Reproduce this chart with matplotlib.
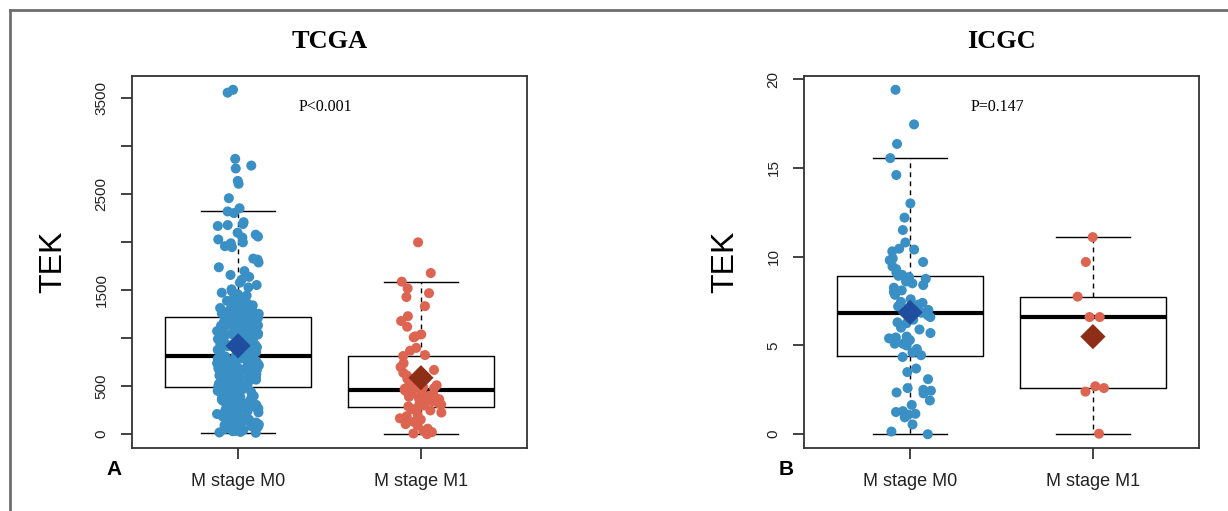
import numpy as np
import matplotlib.pyplot as plt
from matplotlib.lines import Line2D

# TEK expression by M stage
groups = ["M stage M0", "M stage M1"]

tcga_m0 = [15, 18, 24, 31, 36, 44, 50, 61, 66, 77, 83, 95, 101, 106, 118, 122, 134, 139, 150, 153,
           165, 168, 180, 184, 195, 198, 211, 213, 224, 228, 238, 241, 252, 255, 266, 268, 279, 281,
           293, 296, 305, 308, 319, 321, 333, 335, 346, 348, 360, 362, 372, 375, 386, 388, 398, 402,
           413, 415, 426, 428, 438, 441, 452, 454, 462, 466, 471, 474, 478, 480,
           490, 493, 499, 503, 506, 512, 516, 519, 525, 530, 532, 539, 541, 548, 552, 555, 562, 566,
           569, 576, 578, 585, 588, 594, 597, 604, 607, 613, 618, 621, 628, 631, 638, 640, 647, 650,
           657, 660, 667, 670, 677, 680, 687, 690, 697, 700, 707, 710, 717, 720, 727, 730, 737, 740,
           747, 750, 757, 760, 767, 770, 777, 780, 787, 790, 795, 801, 803, 809, 811, 815,
           822, 827, 834, 838, 846, 849, 857, 861, 869, 872, 880, 884, 892, 896, 903, 907, 915, 919,
           927, 931, 939, 943, 951, 955, 963, 967, 975, 979, 987, 991, 999, 1003, 1011, 1015, 1023,
           1027, 1035, 1039, 1047, 1051, 1059, 1063, 1071, 1075, 1083, 1087, 1095, 1099, 1107, 1111,
           1119, 1123, 1131, 1135, 1143, 1147, 1155, 1159, 1167, 1171, 1179, 1183, 1191, 1195, 1199,
           1205, 1207, 1213, 1215, 1220,
           1228, 1232, 1238, 1243, 1250, 1255, 1260, 1266, 1272, 1278, 1284, 1290, 1296, 1302, 1308,
           1315, 1322, 1329, 1336, 1343, 1350, 1358, 1366, 1374, 1382, 1390, 1400, 1410, 1420, 1432,
           1445, 1460, 1475, 1490, 1510, 1530, 1555, 1580, 1610, 1640, 1660, 1700, 1740, 1790,
           1820, 1830, 1950, 1960, 1990, 2000, 2030, 2050, 2060, 2080, 2100, 2170, 2180, 2190, 2210,
           2305, 2322, 2355, 2460, 2610, 2640, 2770, 2800, 2870, 3560, 3590]

tcga_m1 = [0, 8, 22, 35, 58, 92, 105, 128, 152, 166, 188, 207, 226, 248, 262, 276,
           290, 300, 310, 320, 330, 345, 355, 365, 375, 390, 400, 415, 425, 440, 450, 460,
           470, 475, 480, 490, 500, 510, 520, 540, 560, 580, 610, 640, 670, 700, 740, 815,
           825, 870, 900, 1010, 1020, 1040, 1120, 1180, 1230, 1335, 1430, 1470, 1520, 1590,
           1680, 2000]

icgc_m0 = [0.0, 0.15, 0.55, 0.95, 1.1, 1.15, 1.25, 1.3, 1.65, 1.9, 2.3, 2.35, 2.45, 2.5, 2.6,
           3.1, 3.5, 3.7, 4.35,
           4.45, 4.6, 4.8, 5.0, 5.1, 5.1, 5.3, 5.4, 5.45, 5.5, 5.7, 5.9, 6.0, 6.25, 6.3, 6.45,
           6.6, 6.7, 6.78,
           6.84, 6.9, 7.0, 7.05, 7.2, 7.3, 7.4, 7.45, 7.6, 7.85, 8.0, 8.1, 8.25, 8.4, 8.5, 8.6,
           8.75, 8.85, 8.92,
           8.98, 9.1, 9.3, 9.45, 9.7, 9.8, 9.9, 10.3, 10.4, 10.45, 10.8, 11.5, 12.2, 13.0, 14.6,
           15.55, 16.35, 17.45, 19.4]

icgc_m1 = [0.03, 2.4, 2.6, 2.7, 6.6, 6.6, 7.75, 9.7, 11.1]

panels = [
    ("TCGA", "P<0.001", "A", [tcga_m0, tcga_m1], [0, 500, 1000, 1500, 2000, 2500, 3000, 3500],
     ["0", "500", "", "1500", "", "2500", "", "3500"]),
    ("ICGC", "P=0.147", "B", [icgc_m0, icgc_m1], [0, 5, 10, 15, 20],
     ["0", "5", "10", "15", "20"]),
]

pt_colors = ["#3a8fc4", "#dc6450"]
mean_colors = ["#1f4e9e", "#8e2e16"]

W, H = 1228, 511
fig = plt.figure(figsize=(W / 100, H / 100), dpi=100)

# outer frame (only top and left edges visible)
fig.add_artist(Line2D([10 / W, 1.0], [1 - 10 / H, 1 - 10 / H], color="#6e6e6e", lw=2))
fig.add_artist(Line2D([10 / W, 10 / W], [0, 1 - 10 / H], color="#6e6e6e", lw=2))

lefts = [132, 804]
for (title, ptxt, letter, data, yt, ytl), left in zip(panels, lefts):
    ax = fig.add_axes([left / W, 1 - 448 / H, 395 / W, 372 / H])
    ax.boxplot(data, positions=[1, 2], widths=0.8, whis=1.5, showfliers=False,
               capwidths=0.4,
               boxprops=dict(color="black", lw=1),
               medianprops=dict(color="black", lw=3),
               whiskerprops=dict(color="black", lw=1, linestyle=(0, (3.5, 3))),
               capprops=dict(color="black", lw=1))
    for i, vals in enumerate(data):
        vals = np.asarray(vals, dtype=float)
        # stripchart-style horizontal jitter (position only)
        k = np.arange(len(vals)) + 1 + 17 * i
        jit = ((np.sin(k * 12.9898) * 43758.5453) % 1.0 - 0.5) * 0.23
        ax.scatter(i + 1 + jit, vals, s=52, color=pt_colors[i], edgecolors="none", zorder=3)
        ax.scatter([i + 1], [vals.mean()], marker="D", s=165, color=mean_colors[i],
                   edgecolors="none", zorder=4)

    allv = np.concatenate([np.asarray(d, dtype=float) for d in data])
    lo, hi = allv.min(), allv.max()
    ax.set_ylim(lo - 0.04 * (hi - lo), hi + 0.04 * (hi - lo))
    ax.set_xlim(0.42, 2.58)

    ax.set_xticks([1, 2])
    ax.set_xticklabels(groups, fontsize=13, family="Liberation Sans")
    ax.set_yticks(yt)
    ax.set_yticklabels(ytl, fontsize=11, family="Liberation Sans", rotation=90, va="center")
    ax.tick_params(axis="x", length=8, width=1.2, pad=10, colors="#222222")
    ax.tick_params(axis="y", length=8, width=1.2, pad=9, colors="#222222")
    for sp in ax.spines.values():
        sp.set_color("#333333")
        sp.set_linewidth(1.3)

    fig.text((left - 79) / W, 1 - 262 / H, "TEK", rotation=90, ha="center", va="center",
             fontsize=23, family="Liberation Sans")

    ax.text(0.489, 0.917, ptxt, transform=ax.transAxes, ha="center", va="center",
            fontsize=11.5, family="Liberation Serif")

    fig.text((left + 198) / W, 1 - 41 / H, title, ha="center", va="center",
             fontsize=19, fontweight="bold", family="Liberation Serif")
    fig.text((left - 18) / W, 1 - 469 / H, letter, ha="center", va="center",
             fontsize=15, fontweight="bold", family="Liberation Sans")

fig.savefig("out.png", dpi=100)
